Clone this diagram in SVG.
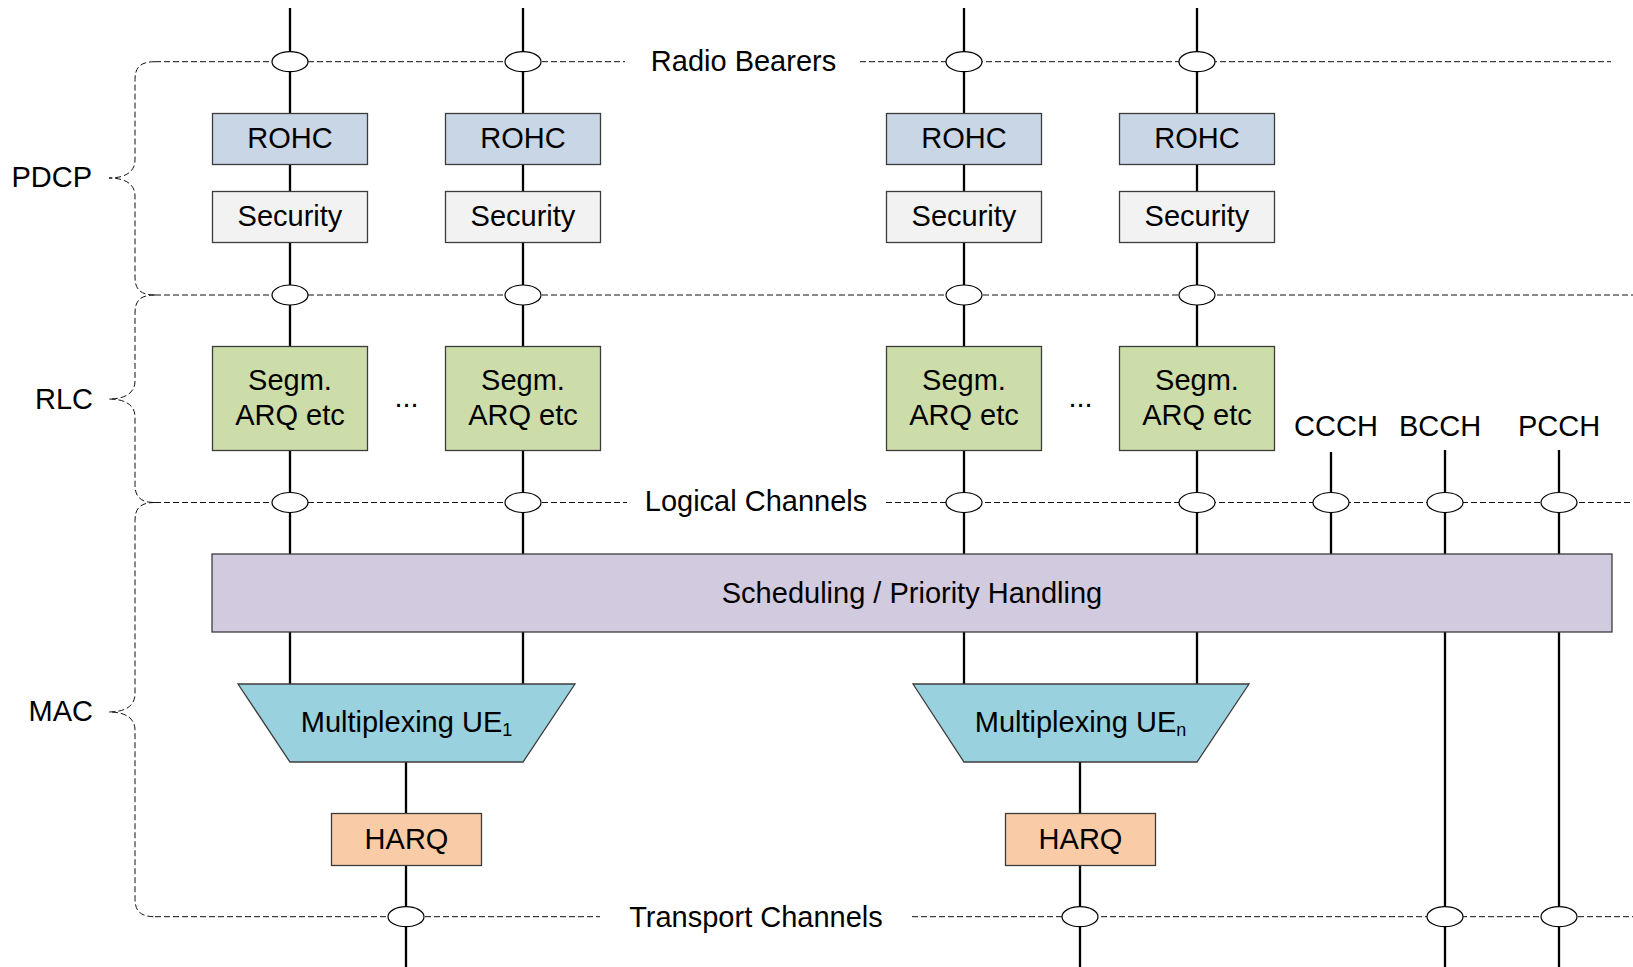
<svg xmlns="http://www.w3.org/2000/svg" width="1633" height="967" viewBox="0 0 1633 967">
<style>
text{font-family:"Liberation Sans",Arial,sans-serif;font-size:29px;fill:#000}
.c{text-anchor:middle}
.e{text-anchor:end}
.dash{stroke:#111;stroke-width:1;stroke-dasharray:6,3;fill:none}
.ln{stroke:#000;stroke-width:2.3;fill:none}
.box{stroke:#3c3c3c;stroke-width:1.3}
.rohc{fill:#C8D6E6}
.sec{fill:#F2F2F2}
.segm{fill:#CCDDAA}
.sched{fill:#D2CADF}
.mux{fill:#99D1DE}
.harq{fill:#F9CBA6}
.j{fill:#fff;stroke:#000;stroke-width:1.2}
</style>
<rect width="1633" height="967" fill="#fff"/>

<g id="layer-lines">
  <path class="dash" d="M155,61.7H625M860,61.7H1611"/>
  <path class="dash" d="M155,295H1633"/>
  <path class="dash" d="M155,502.5H627M886,502.5H1633"/>
  <path class="dash" d="M155,916.7H600M912,916.7H1633"/>
</g>

<g id="braces">
  <path class="dash" d="M155,61.7 C140,61.7 135,67.7 135,79.7 L135,160 C135,172 125,178 109,178 C125,178 135,184 135,196 L135,277 C135,289 140,295 155,295"/>
  <path class="dash" d="M155,295 C140,295 135,301 135,313 L135,381 C135,393 125,399 109,399 C125,399 135,405 135,417 L135,484.5 C135,496.5 140,502.5 155,502.5"/>
  <path class="dash" d="M155,502.5 C140,502.5 135,508.5 135,520.5 L135,694 C135,706 125,712 109,712 C125,712 135,718 135,730 L135,898.7 C135,910.7 140,916.7 155,916.7"/>
</g>

<g id="layer-labels">
  <text id="lbl-pdcp" class="e" x="92" y="187">PDCP</text>
  <text id="lbl-rlc" class="e" x="93" y="409">RLC</text>
  <text id="lbl-mac" class="e" x="93" y="721">MAC</text>
  <text id="lbl-rb" class="c" x="743.5" y="71">Radio Bearers</text>
  <text id="lbl-lc" class="c" x="756" y="510.5">Logical Channels</text>
  <text id="lbl-tc" class="c" x="756" y="926.5">Transport Channels</text>
</g>

<g id="connectors">
  <path class="ln" d="M290,8V554M523,8V554M964,8V554M1197,8V554"/>
  <path class="ln" d="M290,632V684M523,632V684M964,632V684M1197,632V684"/>
  <path class="ln" d="M1331,452V554"/>
  <path class="ln" d="M1445,450V967M1559,450V967"/>
  <path class="ln" d="M406,762V967M1080,762V967"/>
</g>

<g id="rohc-1"><rect class="box rohc" x="212.5" y="113.5" width="155" height="51"/><text class="c" x="290" y="147.5">ROHC</text></g>
<g id="rohc-2"><rect class="box rohc" x="445.5" y="113.5" width="155" height="51"/><text class="c" x="523" y="147.5">ROHC</text></g>
<g id="rohc-3"><rect class="box rohc" x="886.5" y="113.5" width="155" height="51"/><text class="c" x="964" y="147.5">ROHC</text></g>
<g id="rohc-4"><rect class="box rohc" x="1119.5" y="113.5" width="155" height="51"/><text class="c" x="1197" y="147.5">ROHC</text></g>

<g id="security-1"><rect class="box sec" x="212.5" y="191.5" width="155" height="51"/><text class="c" x="290" y="225.5">Security</text></g>
<g id="security-2"><rect class="box sec" x="445.5" y="191.5" width="155" height="51"/><text class="c" x="523" y="225.5">Security</text></g>
<g id="security-3"><rect class="box sec" x="886.5" y="191.5" width="155" height="51"/><text class="c" x="964" y="225.5">Security</text></g>
<g id="security-4"><rect class="box sec" x="1119.5" y="191.5" width="155" height="51"/><text class="c" x="1197" y="225.5">Security</text></g>

<g id="rlc-1"><rect class="box segm" x="212.5" y="346.5" width="155" height="104"/><text class="c" x="290" y="390">Segm.</text><text class="c" x="290" y="425">ARQ etc</text></g>
<g id="rlc-2"><rect class="box segm" x="445.5" y="346.5" width="155" height="104"/><text class="c" x="523" y="390">Segm.</text><text class="c" x="523" y="425">ARQ etc</text></g>
<g id="rlc-3"><rect class="box segm" x="886.5" y="346.5" width="155" height="104"/><text class="c" x="964" y="390">Segm.</text><text class="c" x="964" y="425">ARQ etc</text></g>
<g id="rlc-4"><rect class="box segm" x="1119.5" y="346.5" width="155" height="104"/><text class="c" x="1197" y="390">Segm.</text><text class="c" x="1197" y="425">ARQ etc</text></g>
<text id="dots-1" class="c" x="406.5" y="407">...</text>
<text id="dots-2" class="c" x="1080.5" y="407">...</text>

<g id="ch-labels">
  <text class="c" x="1336" y="436">CCCH</text>
  <text class="c" x="1440" y="436">BCCH</text>
  <text class="c" x="1559" y="436">PCCH</text>
</g>

<g id="scheduling"><rect class="box sched" x="212" y="554" width="1400" height="78"/><text class="c" x="912" y="603">Scheduling / Priority Handling</text></g>

<g id="mux-1"><polygon class="box mux" points="238,684 575,684 523,762 290,762"/><text class="c" x="406.5" y="732">Multiplexing UE<tspan font-size="18" dy="4">1</tspan></text></g>
<g id="mux-n"><polygon class="box mux" points="913,684 1249,684 1197,762 964,762"/><text class="c" x="1080.5" y="732">Multiplexing UE<tspan font-size="18" dy="4">n</tspan></text></g>

<g id="harq-1"><rect class="box harq" x="331.5" y="813.5" width="150" height="52"/><text class="c" x="406.5" y="849">HARQ</text></g>
<g id="harq-n"><rect class="box harq" x="1005.5" y="813.5" width="150" height="52"/><text class="c" x="1080.5" y="849">HARQ</text></g>

<g id="junctions">
  <ellipse class="j" cx="290" cy="61.7" rx="18" ry="10"/>
  <ellipse class="j" cx="523" cy="61.7" rx="18" ry="10"/>
  <ellipse class="j" cx="964" cy="61.7" rx="18" ry="10"/>
  <ellipse class="j" cx="1197" cy="61.7" rx="18" ry="10"/>
  <ellipse class="j" cx="290" cy="295" rx="18" ry="10"/>
  <ellipse class="j" cx="523" cy="295" rx="18" ry="10"/>
  <ellipse class="j" cx="964" cy="295" rx="18" ry="10"/>
  <ellipse class="j" cx="1197" cy="295" rx="18" ry="10"/>
  <ellipse class="j" cx="290" cy="502.5" rx="18" ry="10"/>
  <ellipse class="j" cx="523" cy="502.5" rx="18" ry="10"/>
  <ellipse class="j" cx="964" cy="502.5" rx="18" ry="10"/>
  <ellipse class="j" cx="1197" cy="502.5" rx="18" ry="10"/>
  <ellipse class="j" cx="1331" cy="502.5" rx="18" ry="10"/>
  <ellipse class="j" cx="1445" cy="502.5" rx="18" ry="10"/>
  <ellipse class="j" cx="1559" cy="502.5" rx="18" ry="10"/>
  <ellipse class="j" cx="406" cy="916.7" rx="18" ry="10"/>
  <ellipse class="j" cx="1080" cy="916.7" rx="18" ry="10"/>
  <ellipse class="j" cx="1445" cy="916.7" rx="18" ry="10"/>
  <ellipse class="j" cx="1559" cy="916.7" rx="18" ry="10"/>
</g>
</svg>
